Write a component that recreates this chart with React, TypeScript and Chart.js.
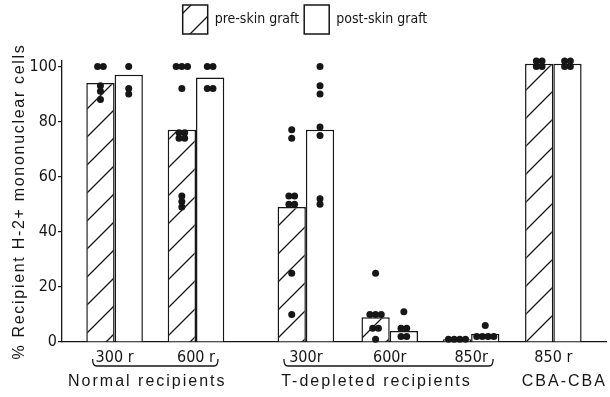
import React, { useEffect, useRef } from 'react';
import { Chart, registerables } from 'chart.js';

Chart.register(...registerables);

// ---------- data ----------
const subLabels = ['300 r', '600 r', '300r', '600r', '850r', '850 r'];
// x value of each recipient group on the linear axis (the gap after "600 r" is wider)
const slotValues = [1, 2, 3.35, 4.38, 5.38, 6.39];
const preSkinGraft = [94, 77, 49, 9, 1, 101];
const postSkinGraft = [97, 96, 77, 4, 3, 101];
const preDots = [
  [100, 100, 93, 91, 88],
  [100, 100, 100, 92, 76, 76, 74, 74, 53, 51, 49],
  [77, 74, 53, 53, 50, 50, 25, 10],
  [25, 10, 10, 10, 5, 5, 1],
  [1, 1, 1, 1],
  [102, 102, 100, 100],
];
const postDots = [
  [100, 92, 90],
  [100, 100, 92, 92],
  [100, 93, 90, 78, 75, 52, 50],
  [11, 5, 5, 2, 2],
  [6, 2, 2, 2, 2],
  [102, 102, 100, 100],
];
const groupNames = ['Normal recipients', 'T-depleted recipients', 'CBA-CBA'];
const groupFirst = [0, 2, 5];
const groupLast = [1, 4, 5];
const groupBracket = [true, true, false];
const yTicks = [0, 20, 40, 60, 80, 100];
const yTitle = '% Recipient H-2+ mononuclear cells';
const legendLabels = ['pre-skin graft', 'post-skin graft'];

// ---------- style / layout ----------
const INK = '#161616';
const CATEGORY_PCT = 0.695;
const BAR_UNITS = CATEGORY_PCT / 2;
const DOT_GAP = 0.07;
const GROUP_LABEL_SHIFT = [-8, -12, 11];
const CONDENSED = "'DejaVu Sans Condensed', 'DejaVu Sans', sans-serif";
const SANS = "'Liberation Sans', Arial, sans-serif";

function dotPoints(lists: number[][], side: number) {
  const pts: { x: number; y: number }[] = [];
  lists.forEach((vals, i) => {
    const cx = slotValues[i] + (side * BAR_UNITS) / 2;
    const counts: Record<number, number> = {};
    vals.forEach((v) => (counts[v] = (counts[v] || 0) + 1));
    const seen: Record<number, number> = {};
    vals.forEach((v) => {
      const n = counts[v];
      const k = (seen[v] = (seen[v] ?? -1) + 1);
      pts.push({ x: cx + (k - (n - 1) / 2) * DOT_GAP, y: v });
    });
  });
  return pts;
}

function makeHatch(): CanvasPattern | string {
  const s = 28;
  const c = document.createElement('canvas');
  c.width = s;
  c.height = s;
  const g = c.getContext('2d');
  if (!g) return '#fff';
  g.fillStyle = '#fff';
  g.fillRect(0, 0, s, s);
  g.strokeStyle = INK;
  g.lineWidth = 1.3;
  g.beginPath();
  g.moveTo(-2, s + 2);
  g.lineTo(s + 2, -2);
  g.moveTo(-2, 2);
  g.lineTo(2, -2);
  g.moveTo(s - 2, s + 2);
  g.lineTo(s + 2, s - 2);
  g.stroke();
  return g.createPattern(c, 'repeat') || '#fff';
}

const legendSpace = {
  id: 'legendSpace',
  beforeLayout(chart: any) {
    const lg = chart.legend;
    if (lg && !lg.__patched) {
      const orig = lg.fit;
      lg.fit = function () {
        orig.call(this);
        this.height = 61;
      };
      lg.__patched = true;
    }
  },
};

const annotate = {
  id: 'annotate',
  afterDraw(chart: any) {
    const { ctx, chartArea } = chart;
    const x = chart.scales.x;
    ctx.save();
    ctx.fillStyle = INK;
    ctx.strokeStyle = INK;
    ctx.lineWidth = 1.3;
    ctx.textAlign = 'center';
    ctx.textBaseline = 'middle';
    ctx.font = `16px ${SANS}`;
    (ctx as any).letterSpacing = '2px';
    groupNames.forEach((name, gi) => {
      const x0 = x.getPixelForValue(slotValues[groupFirst[gi]]);
      const x1 = x.getPixelForValue(slotValues[groupLast[gi]]);
      if (groupBracket[gi]) {
        const a = x0 - 22;
        const b = x1 + 22;
        const by = chartArea.bottom + 24;
        ctx.beginPath();
        ctx.moveTo(a, by - 7);
        ctx.quadraticCurveTo(a, by, a + 4, by);
        ctx.lineTo(b - 4, by);
        ctx.quadraticCurveTo(b, by, b, by - 7);
        ctx.stroke();
      }
      ctx.fillText(name, (x0 + x1) / 2 + GROUP_LABEL_SHIFT[gi], chartArea.bottom + 40);
    });
    (ctx as any).letterSpacing = '1.7px';
    ctx.translate(20, (chartArea.top + chartArea.bottom) / 2);
    ctx.rotate(-Math.PI / 2);
    ctx.fillText(yTitle, 0, 0);
    ctx.restore();
  },
};

export default function App() {
  const ref = useRef<HTMLCanvasElement>(null);
  useEffect(() => {
    if (!ref.current) return;
    const hatch = makeHatch();
    const tickFont = { family: CONDENSED, size: 16 };
    const chart = new Chart(ref.current, {
      type: 'bar',
      data: {
        datasets: [
          {
            label: legendLabels[0],
            data: slotValues.map((v, i) => ({ x: v, y: preSkinGraft[i] })),
            backgroundColor: hatch,
            borderColor: INK,
            borderWidth: 1.5,
            categoryPercentage: CATEGORY_PCT,
            barPercentage: 1,
            order: 1,
          },
          {
            label: legendLabels[1],
            data: slotValues.map((v, i) => ({ x: v, y: postSkinGraft[i] })),
            backgroundColor: '#ffffff',
            borderColor: INK,
            borderWidth: 1.5,
            categoryPercentage: CATEGORY_PCT,
            barPercentage: 1,
            order: 1,
          },
          {
            type: 'scatter',
            label: 'pre dots',
            data: dotPoints(preDots, -1),
            backgroundColor: INK,
            borderColor: INK,
            borderWidth: 0,
            pointRadius: 3.5,
            clip: false,
            order: 0,
          },
          {
            type: 'scatter',
            label: 'post dots',
            data: dotPoints(postDots, 1),
            backgroundColor: INK,
            borderColor: INK,
            borderWidth: 0,
            pointRadius: 3.5,
            clip: false,
            order: 0,
          },
        ] as any,
      },
      options: {
        animation: false,
        responsive: false,
        layout: { padding: 0 },
        plugins: {
          legend: {
            position: 'top',
            labels: {
              filter: (item: any) => item.datasetIndex < 2,
              boxWidth: 25,
              boxHeight: 29,
              padding: 5,
              color: INK,
              font: { family: CONDENSED, size: 14 },
            },
          },
          tooltip: { enabled: false },
        },
        scales: {
          x: {
            type: 'linear',
            min: 0.354,
            max: 7.037,
            offset: false,
            grid: { display: false },
            border: { color: INK, width: 1.3 },
            afterBuildTicks: (s: any) => {
              s.ticks = slotValues.map((v) => ({ value: v }));
            },
            afterFit: (s: any) => {
              s.height = 55;
            },
            ticks: {
              callback: (_v: any, i: number) => subLabels[i],
              font: tickFont,
              color: INK,
              padding: -2,
              maxRotation: 0,
              autoSkip: false,
            },
          },
          y: {
            min: 0,
            max: 102,
            grid: {
              display: true,
              drawOnChartArea: false,
              drawTicks: true,
              tickLength: 4,
              color: INK,
              tickColor: INK,
              lineWidth: 1.2,
            },
            border: { color: INK, width: 1.3 },
            afterBuildTicks: (s: any) => {
              s.ticks = yTicks.map((v) => ({ value: v }));
            },
            afterFit: (s: any) => {
              s.width = 62;
            },
            ticks: { font: tickFont, color: INK, padding: 1 },
          },
        } as any,
      },
      plugins: [legendSpace, annotate],
    });
    return () => chart.destroy();
  }, []);
  return (
    <div style={{ position: 'absolute', left: 0, top: 0, width: 610, height: 397, background: '#fff' }}>
      <canvas ref={ref} width={610} height={397} style={{ display: 'block' }} />
    </div>
  );
}
